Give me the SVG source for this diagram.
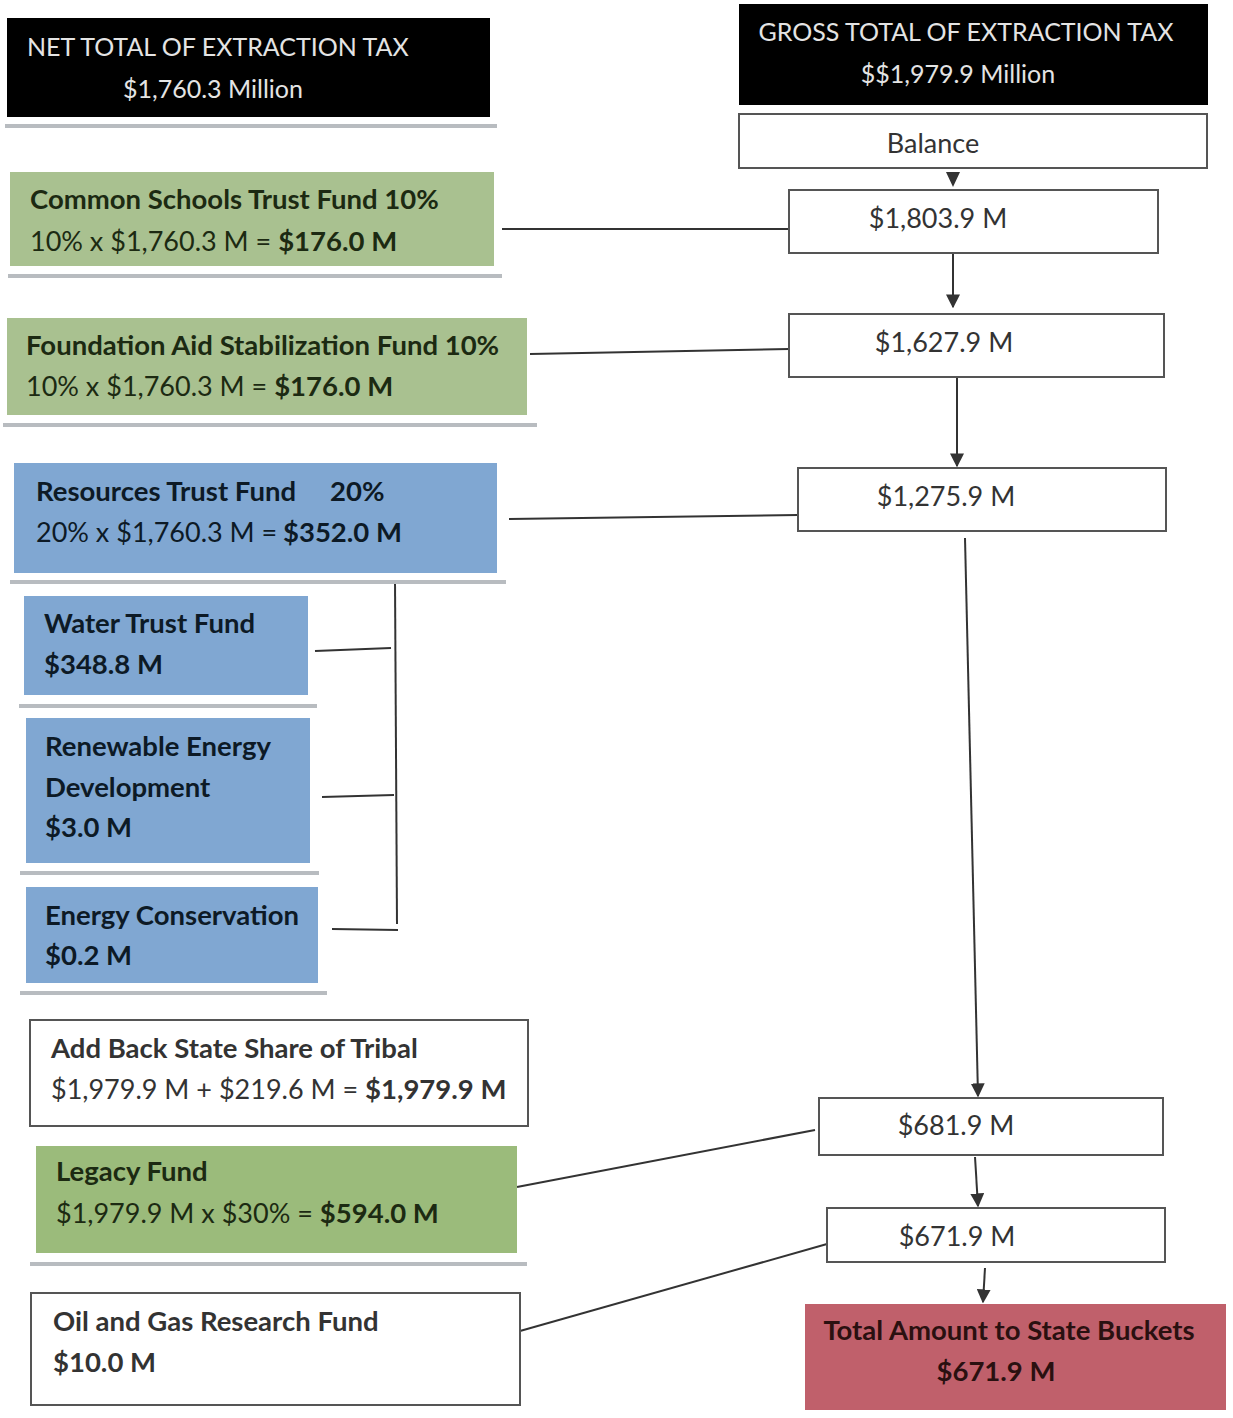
<svg xmlns="http://www.w3.org/2000/svg" width="1233" height="1418" viewBox="0 0 1233 1418">
<style>
text{font-family:Lato,"Liberation Sans",sans-serif;font-size:27px}
.hd{fill:#e4e4e4;font-size:25px}
.b{font-weight:bold;font-size:27.5px}
.dg{fill:#1c2a12}
.db{fill:#0d1a26}
.dk{fill:#333}
.box{fill:#fff;stroke:#555;stroke-width:2}
.blk{fill:#000}
.g1{fill:#a9c190}
.g2{fill:#9bbb7b}
.bl{fill:#80a7d2}
.red{fill:#c0606b}
.sh{fill:#b8bcc0}
.ln{stroke:#333;stroke-width:2;fill:none}
.mid{text-anchor:middle}
</style>
<defs>
<marker id="ah2" viewBox="0 0 10 10" refX="9" refY="5" markerWidth="14" markerHeight="14" orient="auto" markerUnits="userSpaceOnUse">
<path d="M0,0 L10,5 L0,10 z" fill="#333"/>
</marker>
</defs>
<rect width="1233" height="1418" fill="#fff"/>

<g id="connectors">
<path class="ln" d="M502,229 L789,229"/>
<path class="ln" d="M953,253 L953,307" marker-end="url(#ah2)"/>
<path class="ln" d="M530,354 L789,349"/>
<path class="ln" d="M957,377 L957,466" marker-end="url(#ah2)"/>
<path class="ln" d="M509,519 L798,515"/>
<path class="ln" d="M965,538 L978,1096" marker-end="url(#ah2)"/>
<path class="ln" d="M395,580 L397,924"/>
<path class="ln" d="M315,651 L391,648"/>
<path class="ln" d="M322,797 L394,795"/>
<path class="ln" d="M332,929 L398,930"/>
<path class="ln" d="M975,1157 L978,1206" marker-end="url(#ah2)"/>
<path class="ln" d="M985,1268 L983,1302" marker-end="url(#ah2)"/>
<path class="ln" d="M517,1187 L815,1130"/>
<path class="ln" d="M520,1331 L827,1244"/>
<path d="M946,172 L960,172 L953,187 z" fill="#333"/>
</g>

<g id="net-total">
<rect class="sh" x="5" y="124" width="492" height="4"/>
<rect class="blk" x="7" y="18" width="483" height="99"/>
<text class="hd" x="27" y="56">NET TOTAL OF EXTRACTION TAX</text>
<text class="hd" x="123" y="98">$1,760.3 Million</text>
</g>

<g id="gross-total">
<rect class="blk" x="739" y="4" width="469" height="101"/>
<text class="hd mid" x="966" y="41">GROSS TOTAL OF EXTRACTION TAX</text>
<text class="hd mid" x="958" y="83">$$1,979.9 Million</text>
</g>

<g id="balance">
<rect class="box" x="739" y="114" width="468" height="54"/>
<text class="dk mid" x="933" y="153">Balance</text>
</g>

<g id="v1803">
<rect class="box" x="789" y="190" width="369" height="63"/>
<text class="dk mid" x="938" y="228">$1,803.9 M</text>
</g>

<g id="common-schools">
<rect class="sh" x="8" y="274" width="494" height="4"/>
<rect class="g1" x="10" y="172" width="484" height="94"/>
<text class="dg b" x="30" y="209">Common Schools Trust Fund 10%</text>
<text class="dg" x="30" y="251">10% x $1,760.3 M = <tspan class="b">$176.0 M</tspan></text>
</g>

<g id="v1627">
<rect class="box" x="789" y="314" width="375" height="63"/>
<text class="dk mid" x="944" y="352">$1,627.9 M</text>
</g>

<g id="foundation-aid">
<rect class="sh" x="3" y="423" width="534" height="4"/>
<rect class="g1" x="7" y="318" width="520" height="97"/>
<text class="dg b" x="26" y="355">Foundation Aid Stabilization Fund 10%</text>
<text class="dg" x="26" y="396">10% x $1,760.3 M = <tspan class="b">$176.0 M</tspan></text>
</g>

<g id="v1275">
<rect class="box" x="798" y="468" width="368" height="63"/>
<text class="dk mid" x="946" y="506">$1,275.9 M</text>
</g>

<g id="resources-trust">
<rect class="sh" x="10" y="580" width="496" height="4"/>
<rect class="bl" x="14" y="463" width="483" height="110"/>
<text class="db b" x="36" y="501">Resources Trust Fund <tspan x="330">20%</tspan></text>
<text class="db" x="36" y="542">20% x $1,760.3 M = <tspan class="b" x="283">$352.0 M</tspan></text>
</g>

<g id="water-trust">
<rect class="sh" x="19" y="704" width="298" height="4"/>
<rect class="bl" x="24" y="596" width="284" height="99"/>
<text class="db b" x="44" y="633">Water Trust Fund</text>
<text class="db b" x="44" y="674">$348.8 M</text>
</g>

<g id="renewable-energy">
<rect class="sh" x="20" y="871" width="299" height="4"/>
<rect class="bl" x="26" y="718" width="284" height="145"/>
<text class="db b" x="45" y="756">Renewable Energy</text>
<text class="db b" x="45" y="797">Development</text>
<text class="db b" x="45" y="837">$3.0 M</text>
</g>

<g id="energy-conservation">
<rect class="sh" x="20" y="991" width="307" height="4"/>
<rect class="bl" x="26" y="887" width="292" height="96"/>
<text class="db b" x="45" y="925">Energy Conservation</text>
<text class="db b" x="45" y="965">$0.2 M</text>
</g>

<g id="add-back">
<rect class="box" x="30" y="1020" width="498" height="106"/>
<text class="dk b" x="51" y="1058">Add Back State Share of Tribal</text>
<text class="dk" x="51" y="1099">$1,979.9 M + $219.6 M = <tspan class="b">$1,979.9 M</tspan></text>
</g>

<g id="legacy-fund">
<rect class="sh" x="30" y="1262" width="497" height="4"/>
<rect class="g2" x="36" y="1146" width="481" height="107"/>
<text class="dg b" x="56" y="1181">Legacy Fund</text>
<text class="dg" x="56" y="1223">$1,979.9 M x $30% = <tspan class="b">$594.0 M</tspan></text>
</g>

<g id="oil-gas">
<rect class="box" x="31" y="1293" width="489" height="112"/>
<text class="dk b" x="53" y="1331">Oil and Gas Research Fund</text>
<text class="dk b" x="53" y="1372">$10.0 M</text>
</g>

<g id="v681">
<rect class="box" x="819" y="1098" width="344" height="57"/>
<text class="dk mid" x="956" y="1135">$681.9 M</text>
</g>

<g id="v671">
<rect class="box" x="827" y="1208" width="338" height="54"/>
<text class="dk mid" x="957" y="1246">$671.9 M</text>
</g>

<g id="total-state">
<rect class="red" x="805" y="1304" width="421" height="106"/>
<text class="b mid" x="1009" y="1340" fill="#2a1010">Total Amount to State Buckets</text>
<text class="b mid" x="996" y="1381" fill="#2a1010">$671.9 M</text>
</g>
</svg>
